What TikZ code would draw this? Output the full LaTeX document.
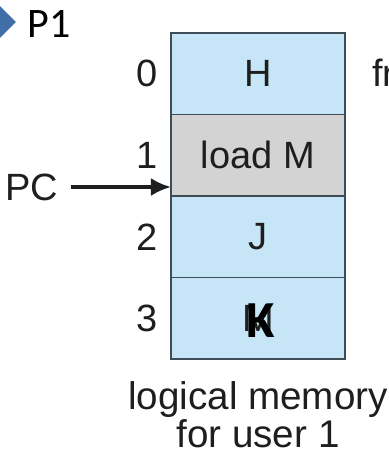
\documentclass[tikz,border=0pt]{standalone}
\usepackage{fontspec}
\setmainfont{Liberation Sans}
\newfontfamily\calibri{Carlito}
\usetikzlibrary{arrows.meta,positioning,shapes.geometric}
\definecolor{cellblue}{HTML}{C6E6F8}
\definecolor{cellgray}{HTML}{D3D3D3}
\definecolor{edge}{HTML}{3E4C56}
\definecolor{bullet}{HTML}{3F6FA6}
\definecolor{ink}{HTML}{1E1E1E}

\begin{document}
\begin{tikzpicture}[>=Latex,x=0.5pt,y=-0.5pt,node distance=0pt]
  \tikzstyle{cell}=[draw=edge,fill=cellblue,line width=0.8pt,minimum width=87pt,minimum height=40.75pt,outer sep=0pt,inner sep=0pt,font=\fontsize{19}{21}\selectfont,text=ink]
  \tikzstyle{idx}=[inner sep=0pt,font=\fontsize{19}{21}\selectfont,text=ink]
  \useasboundingbox (0,0) rectangle (389,462);
  % page title with bullet
  \node[diamond,fill=bullet,inner sep=0pt,minimum size=16pt] (mark) at (0,22) {};
  \node[anchor=base west,inner sep=0pt,font=\calibri\fontsize{21}{23}\selectfont] (title) at (27,37) {P1};
  % logical memory cells
  \node[cell,anchor=north west] (c0) at (171,33) {H};
  \node[cell,fill=cellgray,below=of c0] (c1) {load M};
  \node[cell,below=of c1] (c2) {J};
  \node[cell,below=of c2] (c3) {M};
  \node[inner sep=0pt,font=\calibri\bfseries\fontsize{26}{28}\selectfont] (k) at (261,321) {K};
  % page numbers
  \node[idx,left=6.5pt of c0] (n0) {0};
  \node[idx,left=6.5pt of c1] (n1) {1};
  \node[idx,left=6.5pt of c2] (n2) {2};
  \node[idx,left=6.5pt of c3] (n3) {3};
  % program counter
  \node[idx,anchor=west] (pc) at (5,187) {PC};
  \draw[->,line width=1.8pt,>={Latex[length=10pt,width=9pt]},ink] (pc.east)++(12,0) -- (c1.west |- pc);
  \node[idx,anchor=west] (fr) at (372,73) {fr};
  \node[below=11pt of c3,inner sep=0pt,align=center,text=ink,font=\fontsize{19.3}{17.5}\selectfont] (cap) {logical memory\\for user 1};
\end{tikzpicture}
\end{document}
